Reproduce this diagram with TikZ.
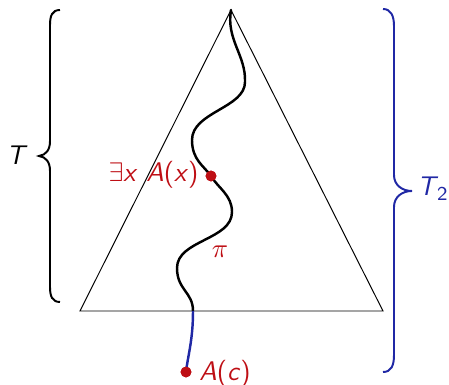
\documentclass[tikz,border=0pt]{standalone}
\definecolor{dred}{RGB}{190,14,20}
\definecolor{dblue}{RGB}{32,40,165}
\newcommand{\svar}[1]{\textsf{\textit{#1}}}
\newcommand{\supr}[1]{\textsf{\textup{#1}}}
\begin{document}
\begin{tikzpicture}[x=0.408pt,y=-0.408pt,
  lbl/.style={inner sep=0pt,font=\fontsize{11}{13}\selectfont\sffamily},
  tri/.style={line width=0.4pt,black},
  proof/.style={line width=1pt,black},
  bracel/.style={line width=0.8pt},
  dotmark/.style={circle,fill=dred,inner sep=0pt,minimum size=4.4pt}]
\useasboundingbox (0,0) rectangle (449,385);
% triangle
\coordinate (apex) at (231,10);
\coordinate (bl) at (80,311);
\coordinate (br) at (383,311);
\draw[tri] (apex) -- (bl) -- (br) -- cycle;
% proof path
\coordinate (p1) at (245,82);
\coordinate (p2) at (192,140);
\coordinate (p3) at (232,212);
\coordinate (p4) at (177,268);
\coordinate (cross) at (193,311);
\node[dotmark] (ex) at (211,176) {};
\node[dotmark] (ac) at (186,372) {};
\draw[proof,line cap=round] (apex) .. controls (226,40) and (246,55) .. (p1)
  .. controls (245,108) and (192,112) .. (p2)
  .. controls (192,160) and (204,166) .. (ex.center)
  .. controls (218,188) and (232,195) .. (p3)
  .. controls (232,240) and (177,240) .. (p4)
  .. controls (177,290) and (193,292) .. (cross);
\draw[proof,dblue] (cross) .. controls (193,340) and (188,355) .. (ac.center);
\node[dotmark] at (ex) {};
\node[dotmark] at (ac) {};
% labels
\node[lbl,text=dred,anchor=base east] (exl) at (199,182) {$\exists$\svar{x} \svar{A}\supr{(}\svar{x}\supr{)}};
\node[lbl,text=dred,anchor=base west] (acl) at (199,381) {\svar{A}\supr{(}\svar{c}\supr{)}};
\node[lbl,text=dred] (pil) at (220,252) {$\pi$};
% left brace
\draw[bracel,black] (60,10) .. controls (52,10) and (50,16) .. (50,25) -- (50,141)
  .. controls (50,150) and (46,155) .. (39,156)
  .. controls (46,157) and (50,162) .. (50,171) -- (50,287)
  .. controls (50,296) and (52,302) .. (60,302);
\node[lbl,anchor=east] (tl) at (28,155) {\svar{T}};
% right brace
\draw[bracel,dblue] (383,9) .. controls (391,9) and (394,16) .. (394,26) -- (394,175)
  .. controls (394,185) and (402,191) .. (412,191)
  .. controls (402,191) and (394,197) .. (394,207) -- (394,355)
  .. controls (394,366) and (391,372) .. (383,372);
\node[lbl,text=dblue,anchor=base west] (t2l) at (417,196) {\svar{T}\kern-0.05em\raisebox{-0.4ex}{\footnotesize\supr{2}}};
\end{tikzpicture}
\end{document}
